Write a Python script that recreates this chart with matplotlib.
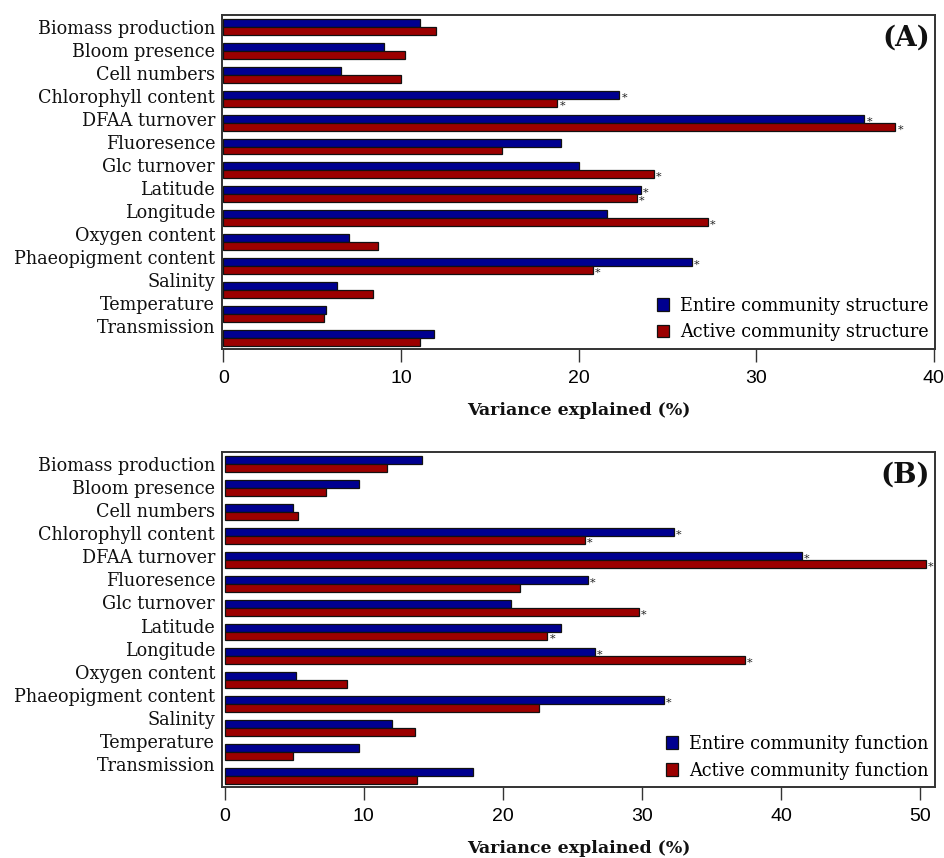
import numpy as np
from matplotlib import pyplot as plt
from matplotlib.patches import Patch

variables = ["Biomass production", "Bloom presence", "Cell numbers",
             "Chlorophyll content", "DFAA turnover", "Fluoresence",
             "Glc turnover", "Latitude", "Longitude", "Oxygen content",
             "Phaeopigment content", "Salinity", "Temperature", "Transmission"]

# panel A - community structure
entire_structure = [11.05, 9.05, 6.6, 22.3, 36.1, 19.0, 20.0, 23.5, 21.6, 7.05, 26.4, 6.4, 5.8, 11.85]
active_structure = [11.95, 10.2, 10.0, 18.8, 37.85, 15.7, 24.25, 23.3, 27.3, 8.7, 20.8, 8.45, 5.65, 11.05]
sig_entire_structure = [0, 0, 0, 1, 1, 0, 0, 1, 0, 0, 1, 0, 0, 0]
sig_active_structure = [0, 0, 0, 1, 1, 0, 1, 1, 1, 0, 1, 0, 0, 0]

# panel B - community function
entire_function = [14.15, 9.65, 4.9, 32.3, 41.5, 26.1, 20.6, 24.2, 26.6, 5.15, 31.6, 12.0, 9.65, 17.85]
active_function = [11.65, 7.3, 5.25, 25.9, 50.4, 21.2, 29.8, 23.2, 37.4, 8.8, 22.6, 13.65, 4.9, 13.85]
sig_entire_function = [0, 0, 0, 1, 1, 1, 0, 0, 1, 0, 1, 0, 0, 0]
sig_active_function = [0, 0, 0, 1, 1, 0, 1, 1, 1, 0, 0, 0, 0, 0]

blue = "#000090"
red = "#9c0000"
serif = "DejaVu Serif"
sans = "Liberation Sans"

W, H = 944, 858
fig = plt.figure(figsize=(W / 100, H / 100), dpi=100)


def panel(rect_px, entire, active, sig_e, sig_a, xmax, xlim, tag, leg_labels):
    l, t, r, b = rect_px
    ax = fig.add_axes([l / W, 1 - b / H, (r - l) / W, (b - t) / H])
    n = len(variables)
    idx = np.arange(n)
    y_e = 3 * idx + 1
    y_a = 3 * idx + 2
    ax.barh(y_e, entire, height=1, color=blue, edgecolor="#111111", linewidth=0.9)
    ax.barh(y_a, active, height=1, color=red, edgecolor="#111111", linewidth=0.9)
    # significance stars (the glyph sits high in its box, so nudge it down)
    for i in range(n):
        if sig_e[i]:
            ax.annotate("*", (entire[i], y_e[i]), xytext=(1.5, -2), textcoords="offset points",
                        ha="left", va="center", fontsize=8, family=serif, color="#222222")
        if sig_a[i]:
            ax.annotate("*", (active[i], y_a[i]), xytext=(1.5, -2), textcoords="offset points",
                        ha="left", va="center", fontsize=8, family=serif, color="#222222")
    ax.set_xlim(*xlim)
    ax.set_ylim(41.9, 0)
    # names sit on their own (slightly tighter) spacing, as in the original figure
    ax.set_yticks(1.5 + 2.886 * idx)
    ax.set_yticklabels(variables, family=serif, fontsize=12.7, color="#111111")
    ax.tick_params(axis="y", length=0, pad=5)
    ax.set_xticks(np.arange(0, xmax + 1, 10))
    ax.tick_params(axis="x", direction="out", length=9, width=1, pad=6,
                   labelsize=14, color="#333333")
    for lab in ax.get_xticklabels():
        lab.set_family(sans)
    for s in ax.spines.values():
        s.set_linewidth(1.4)
        s.set_color("#333333")
    ax.set_xlabel("Variance explained (%)", family=serif, fontweight="bold",
                  fontsize=12.5, labelpad=11, color="#111111")
    ax.text(0.993, 0.97, tag, transform=ax.transAxes, ha="right", va="top",
            family=serif, fontweight="bold", fontsize=20, color="#111111")
    handles = [Patch(facecolor=blue, edgecolor="#111111", linewidth=0.9),
               Patch(facecolor=red, edgecolor="#111111", linewidth=0.9)]
    ax.legend(handles, leg_labels, loc="lower right", bbox_to_anchor=(1.013, -0.025),
              frameon=False, prop={"family": serif, "size": 12.7},
              handlelength=0.7, handleheight=0.7, handletextpad=0.6, labelspacing=0.5)
    return ax


panel((222, 15, 935, 349), entire_structure, active_structure,
      sig_entire_structure, sig_active_structure, 40, (-0.08, 40.08), "(A)",
      ["Entire community structure", "Active community structure"])
panel((222, 452, 935, 787), entire_function, active_function,
      sig_entire_function, sig_active_function, 50, (-0.2, 51.08), "(B)",
      ["Entire community function", "Active community function"])

fig.savefig("out.png", dpi=100)
